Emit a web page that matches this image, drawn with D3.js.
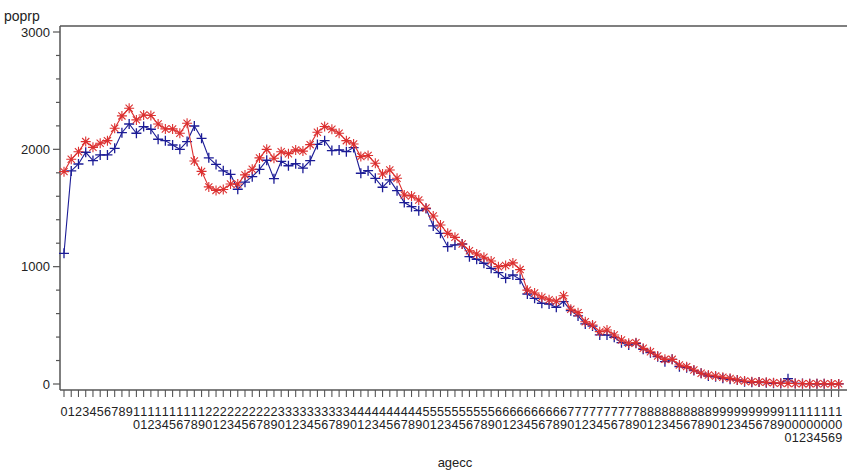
<!DOCTYPE html>
<html>
<head>
<meta charset="UTF-8">
<title>poprp by agecc</title>
<style>
  body { margin: 0; background: #fff; }
  text { font-family: "Liberation Sans", Arial, sans-serif; fill: #222; }
</style>
</head>
<body>
<script src="https://d3js.org/d3.v7.min.js"></script>
<script>
// ages on the x axis (discrete, 107 and 108 do not occur)
const ages = d3.range(0, 107).concat([109]);

// blue "+" series
const bluePop = [
  1114, 1816, 1875, 1975, 1904, 1952, 1952, 2009, 2142, 2216,
  2137, 2194, 2171, 2086, 2074, 2037, 2000, 2066, 2199, 2094,
  1928, 1871, 1817, 1786, 1660, 1720, 1767, 1830, 1907, 1750,
  1898, 1860, 1878, 1839, 1904, 2042, 2074, 1989, 1995, 1980,
  2015, 1796, 1818, 1753, 1677, 1739, 1648, 1546, 1511, 1477,
  1495, 1347, 1284, 1170, 1185, 1193, 1085, 1063, 1029, 986,
  949, 901, 929, 892, 767, 730, 688, 682, 654, 702,
  625, 580, 512, 494, 418, 418, 398, 352, 332, 347,
  296, 267, 233, 190, 210, 148, 139, 114, 91, 68,
  62, 48, 40, 34, 20, 14, 17, 11, 6, 5,
  45, 5, 4, 3, 2, 2, 1, 1
];

// red "*" series
const redPop = [
  1810, 1915, 1980, 2066, 2017, 2052, 2074, 2180, 2285, 2350,
  2251, 2293, 2288, 2216, 2174, 2174, 2137, 2222, 1900, 1812,
  1680, 1650, 1658, 1705, 1704, 1782, 1830, 1927, 2000, 1924,
  1980, 1963, 1995, 1985, 2040, 2145, 2194, 2171, 2137, 2074,
  2046, 1938, 1947, 1881, 1790, 1824, 1753, 1611, 1603, 1568,
  1500, 1432, 1355, 1284, 1250, 1193, 1136, 1108, 1080, 1048,
  1000, 1010, 1032, 975, 800, 775, 740, 718, 705, 752,
  637, 608, 531, 503, 446, 460, 418, 375, 347, 352,
  304, 275, 239, 210, 210, 162, 148, 119, 91, 77,
  68, 57, 48, 34, 26, 20, 17, 14, 11, 6,
  5, 4, 3, 3, 2, 2, 1, 1
];

const yTicks = [0, 1000, 2000, 3000];

const width = 847, height = 476;
const svg = d3.select("body").append("svg")
  .attr("width", width)
  .attr("height", height);

const x = d3.scalePoint().domain(ages).range([64, 64 + 7.24 * (ages.length - 1)]);
const y = d3.scaleLinear().domain([0, 3000]).range([384, 32]);

const axisColor = "#555";
const plotLeft = 60, plotTop = 26, plotBottom = 390;

// frame: top line and left axis, x axis line
svg.append("line").attr("x1", plotLeft).attr("x2", width + 5).attr("y1", plotTop).attr("y2", plotTop)
  .attr("stroke", axisColor).attr("stroke-width", 1.5);
svg.append("line").attr("x1", plotLeft).attr("x2", plotLeft).attr("y1", plotTop).attr("y2", plotBottom)
  .attr("stroke", axisColor).attr("stroke-width", 1.5);
svg.append("line").attr("x1", plotLeft).attr("x2", width + 5).attr("y1", plotBottom).attr("y2", plotBottom)
  .attr("stroke", axisColor).attr("stroke-width", 1.5);

// y axis ticks
const minor = d3.range(0, 3001, 200).filter(v => v % 1000 !== 0);
svg.selectAll(".ymin").data(minor).enter().append("line")
  .attr("x1", plotLeft - 4).attr("x2", plotLeft)
  .attr("y1", d => y(d)).attr("y2", d => y(d))
  .attr("stroke", axisColor).attr("stroke-width", 1.2);
svg.selectAll(".ymaj").data(yTicks).enter().append("line")
  .attr("x1", plotLeft - 7).attr("x2", plotLeft)
  .attr("y1", d => y(d)).attr("y2", d => y(d))
  .attr("stroke", axisColor).attr("stroke-width", 1.2);
svg.selectAll(".ylab").data(yTicks).enter().append("text")
  .attr("x", plotLeft - 10).attr("y", d => y(d) + 4.5)
  .attr("text-anchor", "end").attr("font-size", 13)
  .text(d => d);

svg.append("text").attr("x", 4).attr("y", 21).attr("font-size", 14).text("poprp");

// x axis ticks, labels stacked digit by digit
svg.selectAll(".xt").data(ages).enter().append("line")
  .attr("x1", d => x(d)).attr("x2", d => x(d))
  .attr("y1", plotBottom).attr("y2", plotBottom + 7)
  .attr("stroke", axisColor).attr("stroke-width", 1.1);

const xl = svg.selectAll(".xl").data(ages).enter().append("g")
  .attr("transform", d => "translate(" + x(d) + ",0)");
xl.selectAll("text").data(d => String(d).split("")).enter().append("text")
  .attr("x", 0).attr("y", (c, i) => 416 + i * 13)
  .attr("text-anchor", "middle").attr("font-size", 12.6)
  .text(c => c);

svg.append("text").attr("x", 455).attr("y", 467)
  .attr("text-anchor", "middle").attr("font-size", 13).text("agecc");

// series
const blue = "#1c1c96", red = "#dc3030";
function drawSeries(vals, color, marker, sw) {
  const pts = ages.map((a, i) => [x(a), y(vals[i])]);
  svg.append("path")
    .attr("d", d3.line()(pts))
    .attr("fill", "none").attr("stroke", color).attr("stroke-width", 1.1);
  const s = 5;
  const g = svg.append("g").attr("stroke", color).attr("stroke-width", sw);
  pts.forEach(p => {
    let d = "M" + (p[0] - s) + "," + p[1] + "H" + (p[0] + s) +
            "M" + p[0] + "," + (p[1] - s) + "V" + (p[1] + s);
    if (marker === "star") {
      const k = s * 0.72;
      d += "M" + (p[0] - k) + "," + (p[1] - k) + "L" + (p[0] + k) + "," + (p[1] + k) +
           "M" + (p[0] - k) + "," + (p[1] + k) + "L" + (p[0] + k) + "," + (p[1] - k);
    }
    g.append("path").attr("d", d).attr("fill", "none");
  });
}
drawSeries(bluePop, blue, "plus", 1.3);
drawSeries(redPop, red, "star", 1.1);
</script>
</body>
</html>
